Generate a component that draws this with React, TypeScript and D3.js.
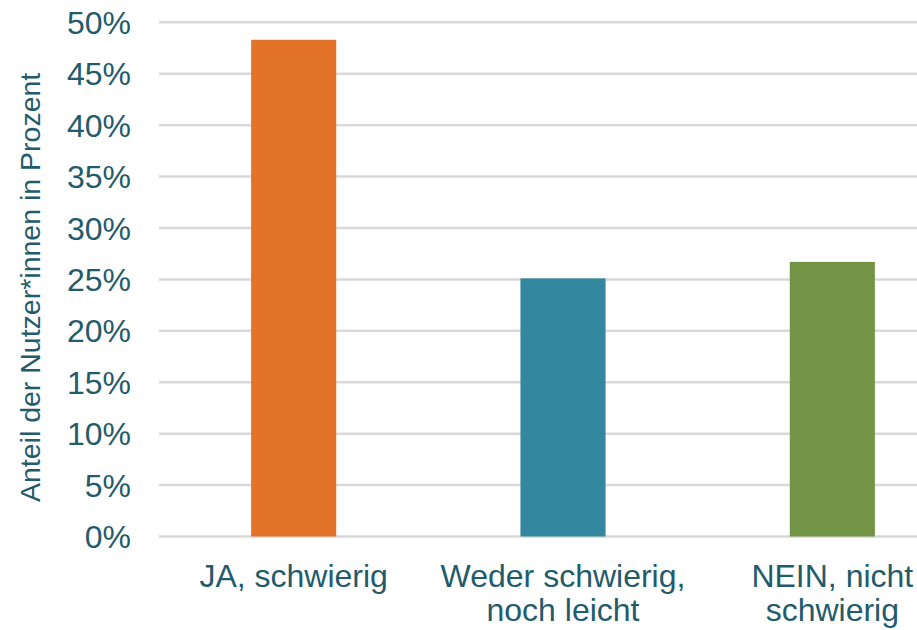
import React from "react";
import * as d3 from "d3";

const categories: string[][] = [
  ["JA, schwierig"],
  ["Weder schwierig,", "noch leicht"],
  ["NEIN, nicht", "schwierig"],
];
const values: number[] = [48.3, 25.1, 26.7];
const colors: string[] = ["#E37329", "#33879E", "#739444"];
const yTicks: number[] = [0, 5, 10, 15, 20, 25, 30, 35, 40, 45, 50];
const yTitle = "Anteil der Nutzer*innen in Prozent";

const W = 917;
const H = 630;
const textColor = "#235B6B";
const font = "'Liberation Sans', Arial, sans-serif";

export default function App() {
  const x = d3
    .scaleBand<number>()
    .domain(d3.range(categories.length))
    .range([159, 967])
    .paddingInner(0.684)
    .paddingOuter(0.342);
  const y = d3.scaleLinear().domain([0, 50]).range([536.5, 22.3]);

  return (
    <svg
      width={W}
      height={H}
      style={{ position: "absolute", left: 0, top: 0, display: "block" }}
    >
      <rect width={W} height={H} fill="#fff" />
      {yTicks.map((t) => (
        <g key={t}>
          <line
            x1={159}
            x2={W}
            y1={y(t)}
            y2={y(t)}
            stroke="#D9D9D9"
            strokeWidth={2.5}
          />
          <text
            x={131}
            y={y(t)}
            dy="0.36em"
            textAnchor="end"
            fontFamily={font}
            fontSize={32}
            fill={textColor}
          >
            {t}%
          </text>
        </g>
      ))}
      {values.map((v, i) => (
        <rect
          key={i}
          x={x(i)}
          y={y(v)}
          width={x.bandwidth()}
          height={y(0) - y(v)}
          fill={colors[i]}
        />
      ))}
      {categories.map((lines, i) => (
        <text
          key={i}
          x={(x(i) as number) + x.bandwidth() / 2}
          y={587}
          textAnchor="middle"
          fontFamily={font}
          fontSize={32}
          fill={textColor}
        >
          {lines.map((l, j) => (
            <tspan key={j} x={(x(i) as number) + x.bandwidth() / 2} dy={j === 0 ? 0 : 34}>
              {l}
            </tspan>
          ))}
        </text>
      ))}
      <text
        transform={`translate(30, ${(y(0) + y(50)) / 2 + 8}) rotate(-90)`}
        textAnchor="middle"
        dy="0.35em"
        fontFamily={font}
        fontSize={28.5}
        fill={textColor}
      >
        {yTitle}
      </text>
    </svg>
  );
}
